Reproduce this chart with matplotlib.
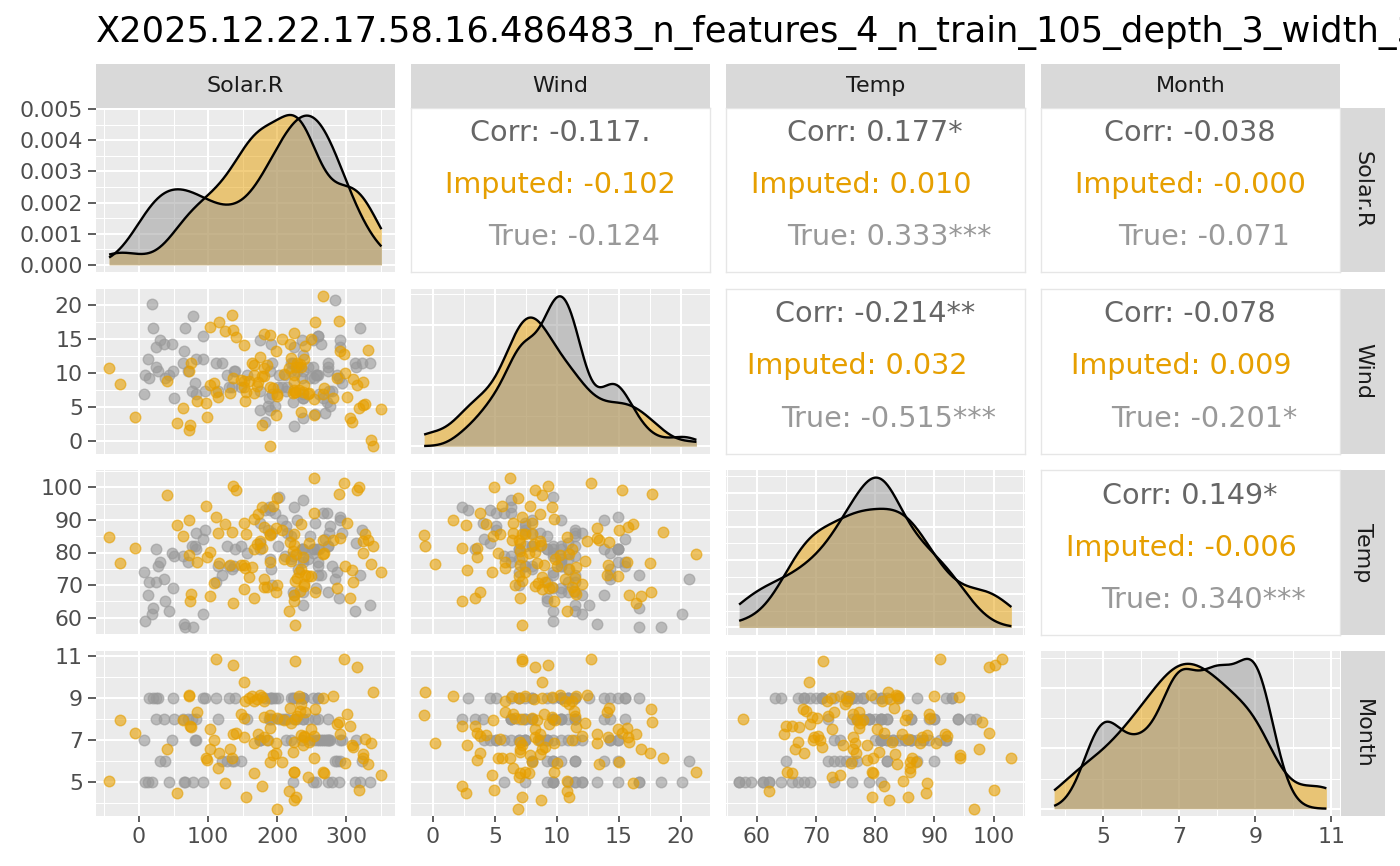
import numpy as np
import matplotlib
matplotlib.use("Agg")
import matplotlib.pyplot as plt
from matplotlib.ticker import FixedLocator, MaxNLocator, AutoMinorLocator, FormatStrFormatter

# ---------------- data ----------------
variables = ["Solar.R", "Wind", "Temp", "Month"]

# "True" group (grey)
true_solar = [313, 19, 256, 290, 274, 65, 334, 78, 44, 8, 320, 92, 66, 13, 252, 223, 279,
              287, 127, 291, 323, 148, 284, 37, 120, 137, 135, 31,
              269, 248, 236, 175, 314, 276, 267, 272, 175, 264, 175, 291, 48, 260, 274, 187, 220, 7, 258, 294, 81, 82, 213, 275, 254,
              83, 24, 77, 255, 229, 207, 192, 273, 157, 64, 71, 51, 115, 244, 190, 259, 36, 212, 238, 215, 203, 225, 237, 188,
              197, 183, 189, 95, 92, 252, 220, 230, 259, 236, 259, 238, 24, 112, 237, 224, 27, 238, 201, 238, 14, 139, 49, 20, 193, 191, 131, 223]
true_wind = [11.5, 20.1, 9.7, 9.2, 10.9, 13.2, 11.5, 18.4, 9.7, 9.7, 16.6, 12.0, 16.6, 12.0, 14.9, 5.7, 7.4,
             9.7, 9.7, 13.8, 11.5, 8.0, 20.7, 9.2, 11.5, 10.3, 8.0, 14.9,
             4.1, 9.2, 9.2, 4.6, 10.9, 5.1, 6.3, 5.7, 7.4, 14.3, 14.9, 14.9, 14.3, 6.9, 10.3, 5.1, 11.5, 6.9, 9.7, 8.6, 8.6, 12.0, 7.4, 7.4, 9.2,
             6.9, 13.8, 7.4, 4.0, 10.3, 8.0, 11.5, 11.5, 9.7, 11.5, 10.3, 6.3, 7.4, 10.9, 10.3, 15.5, 14.3, 9.7, 3.4, 8.0, 9.7, 2.3, 6.3, 6.3,
             5.1, 2.8, 4.6, 7.4, 15.5, 10.9, 10.3, 10.9, 9.7, 14.9, 15.5, 6.3, 10.9, 11.5, 6.9, 13.8, 10.3, 10.3, 8.0, 12.6, 9.2, 10.3, 10.3, 16.6, 6.9, 14.3, 8.0, 11.5]
true_temp = [62, 61, 69, 66, 68, 58, 64, 57, 62, 59, 73, 61, 57, 67, 81, 79, 76,
             74, 82, 90, 87, 82, 72, 65, 73, 76, 75, 77,
             84, 85, 81, 83, 83, 88, 92, 92, 89, 73, 81, 91, 80, 81, 82, 87, 85, 74, 81, 86, 82, 86, 88, 86, 81,
             81, 81, 82, 89, 90, 90, 86, 82, 80, 79, 77, 79, 76, 78, 78, 77, 72, 79, 81, 86, 97, 94, 96, 94,
             92, 93, 93, 87, 84, 80, 78, 75, 73, 81, 76, 77, 71, 71, 78, 67, 76, 68, 82, 64, 71, 81, 69, 63, 70, 75, 76, 68]
true_month = [5] * 17 + [6] * 11 + [7] * 25 + [8] * 24 + [9] * 28

# "Imputed" group (orange)
imp_solar = [112.2, 297.1, 226.3, 136.3, 316.3, 152.1, 338.5, 174.8, 71.7, 71.7,
             281.2, 232.1, 163.2, 178.1, 158.9, 265.8, 170.9, 153.1, 181.5, 166.1,
             234.5, 218.1, 254.2, 233.5, 83.3, 240.7, 300.9, 147.3, 190.2, 228.7,
             180.5, 199.8, 151.7, 226.3, 63.1, -27.9, 210.4, 290.3, 220.0, 287.4,
             73.7, 305.7, 74.6, 189.2, 249.4, 102.6, -6.3, 141.1, 172.4, 291.3,
             136.3, 234.5, 253.7, 239.3, 239.3, 151.7, 180.5, 327.9, 109.3, 185.4,
             245.5, 223.9, 166.1, 198.8, 335.6, 309.1, 237.4, 310.5, 40.0, 103.5,
             132.4, 222.4, 198.8, 115.6, 325.0, 194.0, 96.3, 252.8, 324.0, 134.8,
             98.7, 190.2, 207.0, 298.5, 332.2, 114.6, 224.8, 224.8, 266.3, 166.1,
             268.2, 351.0, 244.1, -43.3, 124.2, 178.1, 319.2, 216.7, 54.4, 155.5,
             227.7, 224.8, 199.8]
imp_wind = [7.19, 12.76, 7.19, 9.25, 8.20, 8.79, -0.64, 12.41, 10.27, 1.61,
            6.38, 7.45, 11.53, 9.60, 8.79, 6.92, 8.12, 5.84, 10.67, 11.21,
            10.94, 14.21, 17.56, 11.34, 5.84, 14.02, 6.43, 8.93, -0.72, 11.47,
            9.60, 6.65, 7.99, 7.19, 4.83, 8.39, 9.81, 17.64, 12.23, 9.33,
            2.36, 3.38, 11.53, 15.63, 14.96, 8.26, 3.57, 15.23, 8.66, 13.27,
            16.35, 4.24, 3.83, 12.01, 8.26, 14.16, 15.76, 5.44, 8.47, 11.21,
            7.05, 15.82, 9.73, 13.22, 0.13, 2.76, 7.19, 9.06, 8.79, 16.76,
            7.05, 7.05, 3.83, 17.51, 8.66, 7.86, 5.58, 6.25, 5.25, 18.58,
            3.57, 7.99, 15.04, 10.00, 13.40, 6.43, 9.73, 7.45, 21.26, 7.05,
            7.77, 4.77, 6.92, 10.80, 16.17, 2.36, 4.91, 10.80, 2.68, 7.19,
            10.94, 8.71, 6.86]
imp_temp = [91.0, 101.4, 71.2, 100.3, 99.2, 68.8, 82.1, 83.5, 79.3, 89.9,
            83.8, 74.1, 75.5, 94.1, 72.6, 83.9, 82.5, 75.2, 71.8, 81.1,
            74.9, 83.1, 67.8, 68.3, 77.2, 73.0, 89.0, 76.3, 85.4, 72.1,
            69.3, 70.1, 89.2, 57.6, 85.1, 76.9, 78.0, 98.0, 77.5, 69.0,
            65.0, 65.9, 67.2, 77.2, 72.7, 80.3, 81.4, 99.3, 91.8, 84.5,
            64.5, 88.7, 92.2, 70.4, 69.7, 76.3, 87.9, 85.6, 70.7, 69.5,
            82.8, 67.0, 90.3, 87.5, 76.6, 74.6, 78.6, 71.0, 97.6, 66.5,
            76.3, 80.6, 67.9, 76.8, 83.4, 94.3, 94.3, 103.0, 79.7, 86.2,
            78.6, 85.8, 86.9, 75.9, 83.7, 85.9, 65.1, 85.8, 79.4, 65.9,
            79.7, 74.0, 72.7, 84.7, 88.8, 81.4, 100.1, 62.1, 88.5, 85.6,
            79.4, 82.4, 96.6]
imp_month = [10.87, 10.87, 10.78, 10.57, 10.50, 9.79, 9.31, 9.16, 9.14, 9.11,
             9.08, 9.11, 9.08, 9.03, 8.98, 8.98, 8.95, 8.87, 8.87, 8.87,
             8.72, 8.51, 8.48, 8.40, 8.35, 8.35, 8.24, 8.24, 8.20, 8.13,
             8.09, 8.04, 8.04, 7.98, 7.96, 7.93, 7.93, 7.88, 7.80, 7.77,
             7.66, 7.66, 7.61, 7.57, 7.54, 7.54, 7.35, 7.35, 7.30, 7.30,
             7.27, 7.25, 7.19, 7.19, 7.14, 7.14, 7.14, 7.03, 6.98, 6.98,
             6.91, 6.91, 6.86, 6.86, 6.84, 6.75, 6.75, 6.67, 6.59, 6.59,
             6.56, 6.43, 6.40, 6.40, 6.35, 6.28, 6.15, 6.15, 6.12, 6.12,
             6.04, 5.96, 5.96, 5.91, 5.85, 5.68, 5.49, 5.49, 5.49, 5.41,
             5.41, 5.33, 5.22, 5.05, 4.97, 4.81, 4.62, 4.57, 4.48, 4.28,
             4.28, 4.12, 3.72]

# axis breaks (tick labels) per variable
breaks = {
    "Solar.R": [0, 100, 200, 300],
    "Wind": [0, 5, 10, 15, 20],
    "Temp": [60, 70, 80, 90, 100],
    "Month": [5, 7, 9, 11],
}
solar_density_breaks = [0, 0.001, 0.002, 0.003, 0.004, 0.005]

# correlation texts for upper panels (row, col)
cor_pairs = [(0, 1), (0, 2), (0, 3), (1, 2), (1, 3), (2, 3)]
cor_overall = ["-0.117.", "0.177*", "-0.038", "-0.214**", "-0.078", "0.149*"]
cor_imputed = ["-0.102", "0.010", "-0.000", "0.032", "0.009", "-0.006"]
cor_true = ["-0.124", "0.333***", "-0.071", "-0.515***", "-0.201*", "0.340***"]
group_names = ["Imputed", "True"]

title = "X2025.12.22.17.58.16.486483_n_features_4_n_train_105_depth_3_width_3"

# ---------------- style ----------------
C_IMP = "#E69F00"
C_TRUE = "#999999"
C_CORR = "#666666"
PANEL_BG = "#EBEBEB"
STRIP_BG = "#D9D9D9"
TICK_COL = "#4D4D4D"
FS_TICK = 15.8
FS_STRIP = 16
FS_COR = 20.6
FS_TITLE = 25.4
PT_S = 58
PT_LW = 1.0
PT_ALPHA = 0.6

true_data = {"Solar.R": np.array(true_solar, float), "Wind": np.array(true_wind, float),
             "Temp": np.array(true_temp, float), "Month": np.array(true_month, float)}
imp_data = {"Solar.R": np.array(imp_solar, float), "Wind": np.array(imp_wind, float),
            "Temp": np.array(imp_temp, float), "Month": np.array(imp_month, float)}

plt.rcParams["font.family"] = ["DejaVu Sans"]

W, H = 1400, 866
fig = plt.figure(figsize=(W / 100, H / 100), dpi=100)
fig.patch.set_facecolor("white")

col_left = [95.5 + 315 * j for j in range(4)]
pw = 299.5
row_top = [107.5 + 181.3 * i for i in range(4)]
ph = 164.8
strip_sz = 44


def rect(left, top, w, h):
    return [left / W, 1 - (top + h) / H, w / W, h / H]


def limits(v):
    allv = np.concatenate([true_data[v], imp_data[v]])
    lo, hi = allv.min(), allv.max()
    r = hi - lo
    return lo - 0.05 * r, hi + 0.05 * r, lo, hi


def minor_from(br, lo, hi):
    step = br[1] - br[0]
    m = np.arange(br[0] - step / 2, hi + step, step)
    return [x for x in m if lo <= x <= hi]


def kde(vals, grid):
    x = np.asarray(vals, float)
    n = len(x)
    sd = x.std(ddof=1)
    q75, q25 = np.percentile(x, [75, 25])
    lo = min(sd, (q75 - q25) / 1.34)
    bw = 0.9 * lo * n ** (-0.2)
    z = (grid[:, None] - x[None, :]) / bw
    return np.exp(-0.5 * z ** 2).sum(1) / (n * bw * np.sqrt(2 * np.pi))


def style_grid(ax):
    ax.set_facecolor(PANEL_BG)
    for s in ax.spines.values():
        s.set_visible(False)
    ax.set_axisbelow(True)
    ax.grid(which="major", color="white", lw=1.45)
    ax.grid(which="minor", color="white", lw=0.72)


lims = {v: limits(v) for v in variables}

for i, vy in enumerate(variables):
    for j, vx in enumerate(variables):
        ax = fig.add_axes(rect(col_left[j], row_top[i], pw, ph))
        xlo, xhi, dlo, dhi = lims[vx]
        if i < j:
            # correlation text panel
            ax.set_facecolor("white")
            for s in ax.spines.values():
                s.set_color("#E6E6E6")
                s.set_linewidth(1.0)
            ax.set_xticks([])
            ax.set_yticks([])
            k = cor_pairs.index((i, j))
            ax.text(0.5, 0.797, "Corr: " + cor_overall[k], transform=ax.transAxes,
                    ha="center", va="baseline", fontsize=FS_COR, color=C_CORR)
            vals = [cor_imputed[k], cor_true[k]]
            nw = max(len(n) for n in group_names)
            vw = max(len(v) for v in vals)
            for name, val, col, yy in zip(group_names, vals, [C_IMP, C_TRUE], [0.480, 0.163]):
                lead = nw - len(name)
                trail = vw - len(val)
                off = (lead - trail) / 2 * 0.318 * FS_COR
                ax.annotate(name + ": " + val, xy=(0.5, yy), xycoords="axes fraction",
                            xytext=(off, 0), textcoords="offset points",
                            ha="center", va="baseline", fontsize=FS_COR, color=col)
            continue

        style_grid(ax)
        ax.set_xlim(xlo, xhi)
        ax.xaxis.set_major_locator(FixedLocator(breaks[vx]))
        ax.xaxis.set_minor_locator(FixedLocator(minor_from(breaks[vx], xlo, xhi)))

        if i == j:
            grid = np.linspace(dlo, dhi, 512)
            d_imp = kde(imp_data[vx], grid)
            d_true = kde(true_data[vx], grid)
            ax.fill_between(grid, 0, d_imp, color=C_IMP, alpha=0.5, lw=0)
            ax.plot(grid, d_imp, color="black", lw=1.7, solid_capstyle="butt")
            ax.fill_between(grid, 0, d_true, color=C_TRUE, alpha=0.5, lw=0)
            ax.plot(grid, d_true, color="black", lw=1.7, solid_capstyle="butt")
            ymax = max(d_imp.max(), d_true.max())
            ax.set_ylim(-0.05 * ymax, 1.05 * ymax)
            if i == 0:
                ax.yaxis.set_major_locator(FixedLocator(solar_density_breaks))
                mids = [(a + b) / 2 for a, b in zip(solar_density_breaks[:-1], solar_density_breaks[1:])]
                ax.yaxis.set_minor_locator(FixedLocator(mids))
                ax.yaxis.set_major_formatter(FormatStrFormatter("%.3f"))
            else:
                ax.yaxis.set_major_locator(MaxNLocator(nbins=5, steps=[1, 2, 2.5, 5, 10]))
                ax.yaxis.set_minor_locator(AutoMinorLocator(2))
        else:
            ylo, yhi, _, _ = lims[vy]
            ax.scatter(true_data[vx], true_data[vy], s=PT_S, color=C_TRUE, alpha=PT_ALPHA,
                       edgecolors=C_TRUE, linewidths=PT_LW, zorder=3)
            ax.scatter(imp_data[vx], imp_data[vy], s=PT_S, color=C_IMP, alpha=PT_ALPHA,
                       edgecolors=C_IMP, linewidths=PT_LW, zorder=4)
            ax.set_ylim(ylo, yhi)
            ax.yaxis.set_major_locator(FixedLocator(breaks[vy]))
            ax.yaxis.set_minor_locator(FixedLocator(minor_from(breaks[vy], ylo, yhi)))

        ax.tick_params(which="minor", length=0)
        show_left = (j == 0)
        show_bottom = (i == 3)
        ax.tick_params(axis="y", which="major", left=show_left, labelleft=show_left,
                       length=5.5, width=1.1, color="#333333", pad=3.5,
                       labelsize=FS_TICK, labelcolor=TICK_COL)
        ax.tick_params(axis="x", which="major", bottom=show_bottom, labelbottom=show_bottom,
                       length=4.5, width=1.1, color="#333333", pad=3.5,
                       labelsize=FS_TICK, labelcolor=TICK_COL)

# top strips
for j, v in enumerate(variables):
    sax = fig.add_axes(rect(col_left[j], row_top[0] - strip_sz, pw, strip_sz))
    sax.set_facecolor(STRIP_BG)
    for s in sax.spines.values():
        s.set_visible(False)
    sax.set_xticks([])
    sax.set_yticks([])
    sax.text(0.5, 0.5, v, transform=sax.transAxes, ha="center", va="center",
             fontsize=FS_STRIP, color="#1A1A1A")

# right strips
for i, v in enumerate(variables):
    sax = fig.add_axes(rect(col_left[3] + pw + 1, row_top[i], strip_sz, ph))
    sax.set_facecolor(STRIP_BG)
    for s in sax.spines.values():
        s.set_visible(False)
    sax.set_xticks([])
    sax.set_yticks([])
    sax.text(0.5, 0.5, v, transform=sax.transAxes, ha="center", va="center",
             rotation=-90, fontsize=FS_STRIP, color="#1A1A1A")

# title runs past the right edge, as in the reference
fig.text(95.5 / W, 1 - 41.7 / H, title, ha="left", va="baseline",
         fontsize=FS_TITLE, color="black")

fig.savefig("out.png", dpi=100, facecolor="white")
